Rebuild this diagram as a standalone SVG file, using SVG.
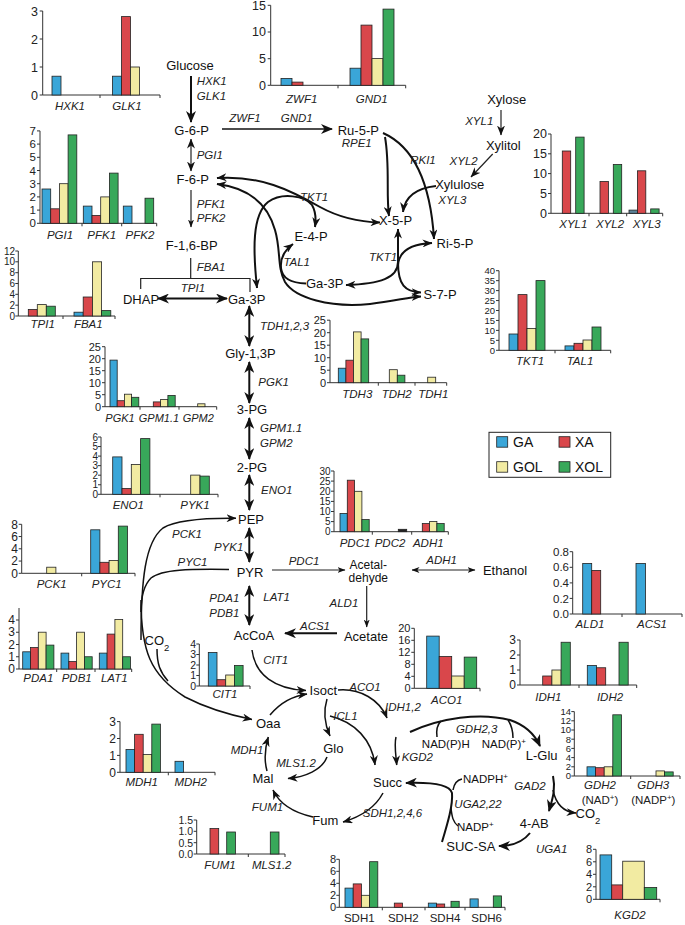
<svg xmlns="http://www.w3.org/2000/svg" width="685" height="925" viewBox="0 0 685 925">
<style>
.ax{fill:none;stroke:#333;stroke-width:1}
.b{stroke:#222;stroke-width:0.8}
.ga{fill:#3aa6d8}.xa{fill:#d9474b}.gol{fill:#f2eba2}.xol{fill:#38a85a}.blk{fill:#222}
.tk{font-family:"Liberation Sans",Arial,sans-serif;font-size:11.5px;text-anchor:end;fill:#222}
.gn{font-family:"Liberation Sans",Arial,sans-serif;font-size:11.5px;font-style:italic;text-anchor:middle;fill:#222}
.gu{font-family:"Liberation Sans",Arial,sans-serif;font-size:11.5px;text-anchor:middle;fill:#222}
.nd{font-family:"Liberation Sans",Arial,sans-serif;font-size:13px;text-anchor:middle;fill:#111}
.en{font-family:"Liberation Sans",Arial,sans-serif;font-size:11.5px;font-style:italic;fill:#222}
.cf{font-family:"Liberation Sans",Arial,sans-serif;font-size:11.5px;fill:#111}
.lg{font-family:"Liberation Sans",Arial,sans-serif;font-size:14px;fill:#111}
.s95{font-size:9.5px}.s10{font-size:10px}.s105{font-size:10.5px}.s11{font-size:11px}.s12{font-size:12px}.s125{font-size:12.5px}
.c{fill:none;stroke:#111;stroke-width:2}
.cm{fill:none;stroke:#111;stroke-width:1.5}
.ct{fill:none;stroke:#222;stroke-width:1.2}
</style>
<defs>
<marker id="ah" viewBox="0 0 12 10" refX="11" refY="5" markerWidth="12" markerHeight="10" markerUnits="userSpaceOnUse" orient="auto-start-reverse"><path d="M0,0 L12,5 L0,10 L3.5,5 Z" fill="#111"/></marker>
<marker id="am" viewBox="0 0 10 8" refX="9.5" refY="4" markerWidth="10" markerHeight="8" markerUnits="userSpaceOnUse" orient="auto-start-reverse"><path d="M0,0 L10,4 L0,8 L3,4 Z" fill="#111"/></marker>
<marker id="as" viewBox="0 0 8 6" refX="7.5" refY="3" markerWidth="8" markerHeight="6" markerUnits="userSpaceOnUse" orient="auto-start-reverse"><path d="M0,0 L8,3 L0,6 L2.2,3 Z" fill="#111"/></marker>
</defs>
<rect width="685" height="925" fill="#fff"/>

<!-- ========== CHARTS ========== -->
<g id="chart-hxk">
<path class="ax" d="M42.7 11V95H160M39.7 11H42.7M39.7 39H42.7M39.7 67H42.7M39.7 95H42.7M100 95V98M160 95V98"/>
<text class="tk s125" x="38" y="15.5">3</text><text class="tk s125" x="38" y="43.5">2</text><text class="tk s125" x="38" y="71.5">1</text><text class="tk s125" x="38" y="99.5">0</text>
<rect class="b ga" x="52" y="76.2" width="9" height="18.8"/>
<rect class="b ga" x="112.5" y="76.2" width="9" height="18.8"/>
<rect class="b xa" x="121.5" y="16.6" width="9" height="78.4"/>
<rect class="b gol" x="130.5" y="67" width="9" height="28"/>
<text class="gn" x="70" y="110">HXK1</text><text class="gn" x="127" y="110">GLK1</text>
</g>

<g id="chart-zwf">
<path class="ax" d="M270.7 5.3V85.3H405.7M267.7 5.3H270.7M267.7 32H270.7M267.7 58.7H270.7M267.7 85.3H270.7M338 85.3V88.3M405.7 85.3V88.3"/>
<text class="tk s125" x="266" y="9.5">15</text><text class="tk s125" x="266" y="36.2">10</text><text class="tk s125" x="266" y="62.9">5</text><text class="tk s125" x="266" y="89.5">0</text>
<rect class="b ga" x="281" y="78.4" width="11" height="6.9"/>
<rect class="b xa" x="292" y="82.1" width="11" height="3.2"/>
<rect class="b ga" x="350" y="68.2" width="11" height="17.1"/>
<rect class="b xa" x="361" y="25.1" width="11" height="60.2"/>
<rect class="b gol" x="372" y="58.6" width="11" height="26.7"/>
<rect class="b xol" x="383" y="9.1" width="11" height="76.2"/>
<text class="gn" x="301.7" y="103">ZWF1</text><text class="gn" x="371.7" y="103">GND1</text>
</g>

<g id="chart-pgi">
<path class="ax" d="M40 130.9V223.3H156.7M37 130.9H40M37 144.1H40M37 157.3H40M37 170.5H40M37 183.7H40M37 196.9H40M37 210.1H40M37 223.3H40M82 223.3V226.3M121.7 223.3V226.3M156.7 223.3V226.3"/>
<text class="tk" x="36" y="135">7</text><text class="tk" x="36" y="148.2">6</text><text class="tk" x="36" y="161.4">5</text><text class="tk" x="36" y="174.6">4</text><text class="tk" x="36" y="187.8">3</text><text class="tk" x="36" y="201">2</text><text class="tk" x="36" y="214.2">1</text><text class="tk" x="36" y="227.4">0</text>
<rect class="b ga" x="42" y="189" width="8.7" height="34.3"/>
<rect class="b xa" x="50.7" y="208.8" width="8.7" height="14.5"/>
<rect class="b gol" x="59.4" y="183.7" width="8.7" height="39.6"/>
<rect class="b xol" x="68.1" y="134.9" width="8.7" height="88.4"/>
<rect class="b ga" x="83.3" y="206.1" width="8.7" height="17.2"/>
<rect class="b xa" x="92" y="215.4" width="8.7" height="7.9"/>
<rect class="b gol" x="100.7" y="196.9" width="8.7" height="26.4"/>
<rect class="b xol" x="109.4" y="173.1" width="8.7" height="50.2"/>
<rect class="b ga" x="123.3" y="206.1" width="8.7" height="17.2"/>
<rect class="b xol" x="145" y="198.2" width="8.7" height="25.1"/>
<text class="gn" x="60" y="239">PGI1</text><text class="gn" x="101.7" y="239">PFK1</text><text class="gn" x="140" y="239">PFK2</text>
</g>

<g id="chart-tpi">
<path class="ax" d="M18.3 251V316H115M15.3 251H18.3M15.3 261.8H18.3M15.3 272.7H18.3M15.3 283.5H18.3M15.3 294.3H18.3M15.3 305.2H18.3M15.3 316H18.3M63 316V319M115 316V319"/>
<text class="tk s10" x="15" y="254.6">12</text><text class="tk s10" x="15" y="265.4">10</text><text class="tk s10" x="15" y="276.3">8</text><text class="tk s10" x="15" y="287.1">6</text><text class="tk s10" x="15" y="297.9">4</text><text class="tk s10" x="15" y="308.8">2</text><text class="tk s10" x="15" y="319.6">0</text>
<rect class="b xa" x="28.3" y="309.5" width="9" height="6.5"/>
<rect class="b gol" x="37.3" y="304.6" width="9" height="11.4"/>
<rect class="b xol" x="46.3" y="306.2" width="9" height="9.8"/>
<rect class="b ga" x="74" y="312.2" width="9.2" height="3.8"/>
<rect class="b xa" x="83.2" y="297" width="9.2" height="19"/>
<rect class="b gol" x="92.4" y="261.8" width="9.2" height="54.2"/>
<rect class="b xol" x="101.6" y="310.6" width="9.2" height="5.4"/>
<text class="gn" x="42.7" y="328">TPI1</text><text class="gn" x="88.3" y="328">FBA1</text>
</g>

<g id="chart-xyl">
<path class="ax" d="M551 134V213.3H662.7M548 134H551M548 153.8H551M548 173.6H551M548 193.5H551M548 213.3H551M589 213.3V216.3M626.7 213.3V216.3M662.7 213.3V216.3"/>
<text class="tk s125" x="547" y="138.3">20</text><text class="tk s125" x="547" y="158.1">15</text><text class="tk s125" x="547" y="177.9">10</text><text class="tk s125" x="547" y="197.8">5</text><text class="tk s125" x="547" y="217.6">0</text>
<rect class="b xa" x="562.3" y="151" width="8.4" height="62.3"/>
<rect class="b xol" x="575.7" y="137.1" width="8.4" height="76.2"/>
<rect class="b xa" x="600" y="181.5" width="8.4" height="31.8"/>
<rect class="b xol" x="613.3" y="164.5" width="8.4" height="48.8"/>
<rect class="b" x="629" y="210.1" width="8.4" height="3.2" fill="#5b8298"/>
<rect class="b xa" x="637.4" y="170.8" width="8.4" height="42.5"/>
<rect class="b xol" x="650.7" y="208.9" width="8.4" height="4.4"/>
<text class="gn" x="573.3" y="228">XYL1</text><text class="gn" x="610" y="228">XYL2</text><text class="gn" x="646.7" y="228">XYL3</text>
</g>

<g id="chart-tkt">
<path class="ax" d="M499 270.7V350.3H610.7M496 270.7H499M496 280.65H499M496 290.6H499M496 300.55H499M496 310.5H499M496 320.45H499M496 330.4H499M496 340.35H499M496 350.3H499M555 350.3V353.3M610.7 350.3V353.3"/>
<text class="tk s95" x="495" y="274">40</text><text class="tk s95" x="495" y="284">35</text><text class="tk s95" x="495" y="293.9">30</text><text class="tk s95" x="495" y="303.9">25</text><text class="tk s95" x="495" y="313.8">20</text><text class="tk s95" x="495" y="323.8">15</text><text class="tk s95" x="495" y="333.7">10</text><text class="tk s95" x="495" y="343.7">5</text><text class="tk s95" x="495" y="353.6">0</text>
<rect class="b ga" x="509" y="334" width="9" height="16.3"/>
<rect class="b xa" x="518" y="294.6" width="9" height="55.7"/>
<rect class="b gol" x="527" y="328.4" width="9" height="21.9"/>
<rect class="b xol" x="536" y="280.6" width="9" height="69.7"/>
<rect class="b ga" x="565" y="345.9" width="9" height="4.4"/>
<rect class="b xa" x="574" y="343.3" width="9" height="7"/>
<rect class="b gol" x="583" y="340" width="9" height="10.3"/>
<rect class="b xol" x="592" y="327" width="9" height="23.3"/>
<text class="gn" x="530" y="365">TKT1</text><text class="gn" x="580" y="365">TAL1</text>
</g>

<g id="chart-tdh">
<path class="ax" d="M330 320.2V382.7H446.7M327 320.2H330M327 332.7H330M327 345.2H330M327 357.7H330M327 370.2H330M327 382.7H330M378.3 382.7V385.7M415 382.7V385.7M446.7 382.7V385.7"/>
<text class="tk s11" x="326" y="324.2">25</text><text class="tk s11" x="326" y="336.7">20</text><text class="tk s11" x="326" y="349.2">15</text><text class="tk s11" x="326" y="361.7">10</text><text class="tk s11" x="326" y="374.2">5</text><text class="tk s11" x="326" y="386.7">0</text>
<rect class="b ga" x="338.3" y="368.2" width="7.6" height="14.5"/>
<rect class="b xa" x="345.9" y="360.2" width="7.6" height="22.5"/>
<rect class="b gol" x="353.5" y="331.9" width="7.6" height="50.8"/>
<rect class="b xol" x="361.1" y="338.9" width="7.6" height="43.8"/>
<rect class="b gol" x="389.3" y="369.7" width="8" height="13"/>
<rect class="b xol" x="397.3" y="375.2" width="7.6" height="7.5"/>
<rect class="b gol" x="427.7" y="377.2" width="8" height="5.5"/>
<text class="gn" x="357.3" y="398">TDH3</text><text class="gn" x="396.7" y="398">TDH2</text><text class="gn" x="433.3" y="398">TDH1</text>
</g>

<g id="chart-pgk">
<path class="ax" d="M105 346.7V406.7H216.7M102 346.7H105M102 358.7H105M102 370.7H105M102 382.7H105M102 394.7H105M102 406.7H105M140 406.7V409.7M179 406.7V409.7M216.7 406.7V409.7"/>
<text class="tk s11" x="101" y="350.7">25</text><text class="tk s11" x="101" y="362.7">20</text><text class="tk s11" x="101" y="374.7">15</text><text class="tk s11" x="101" y="386.7">10</text><text class="tk s11" x="101" y="398.7">5</text><text class="tk s11" x="101" y="410.7">0</text>
<rect class="b ga" x="110" y="360.1" width="7.2" height="46.6"/>
<rect class="b xa" x="117.2" y="400.7" width="7.2" height="6"/>
<rect class="b gol" x="124.4" y="394.2" width="7.2" height="12.5"/>
<rect class="b xol" x="131.6" y="397.3" width="7.2" height="9.4"/>
<rect class="b xa" x="153.3" y="401.9" width="7.3" height="4.8"/>
<rect class="b gol" x="160.6" y="399.5" width="7.3" height="7.2"/>
<rect class="b xol" x="167.9" y="395.4" width="7.3" height="11.3"/>
<rect class="b gol" x="197.7" y="403.8" width="7.3" height="2.9"/>
<text class="gn s11" x="120" y="422">PGK1</text><text class="gn s11" x="159" y="422">GPM1.1</text><text class="gn s11" x="198.3" y="422">GPM2</text>
</g>

<g id="chart-eno">
<path class="ax" d="M101 437V494.3H218M98 437H101M98 446.55H101M98 456.1H101M98 465.65H101M98 475.2H101M98 484.75H101M98 494.3H101M160 494.3V497.3M218 494.3V497.3"/>
<text class="tk s10" x="98" y="440.6">6</text><text class="tk s10" x="98" y="450.2">5</text><text class="tk s10" x="98" y="459.7">4</text><text class="tk s10" x="98" y="469.3">3</text><text class="tk s10" x="98" y="478.8">2</text><text class="tk s10" x="98" y="488.4">1</text><text class="tk s10" x="98" y="497.9">0</text>
<rect class="b ga" x="112.7" y="456.9" width="9.3" height="37.4"/>
<rect class="b xa" x="122" y="488.5" width="9.3" height="5.8"/>
<rect class="b gol" x="131.3" y="464.5" width="9.3" height="29.8"/>
<rect class="b xol" x="140.6" y="438.6" width="9.3" height="55.7"/>
<rect class="b gol" x="190.7" y="475.1" width="9.3" height="19.2"/>
<rect class="b xol" x="200" y="476.1" width="9.3" height="18.2"/>
<text class="gn" x="128.3" y="509">ENO1</text><text class="gn" x="195" y="509">PYK1</text>
</g>

<g id="chart-pck">
<path class="ax" d="M21.7 524.3V573.3H135M18.7 524.3H21.7M18.7 536.55H21.7M18.7 548.8H21.7M18.7 561.05H21.7M18.7 573.3H21.7M81.7 573.3V576.3M135 573.3V576.3"/>
<text class="tk s12" x="18" y="528.5">8</text><text class="tk s12" x="18" y="540.7">6</text><text class="tk s12" x="18" y="553">4</text><text class="tk s12" x="18" y="565.2">2</text><text class="tk s12" x="18" y="577.5">0</text>
<rect class="b gol" x="46.7" y="567.2" width="9.2" height="6.1"/>
<rect class="b ga" x="90.7" y="529.8" width="9.2" height="43.5"/>
<rect class="b xa" x="99.9" y="562.3" width="9.2" height="11"/>
<rect class="b gol" x="109.1" y="560.4" width="9.2" height="12.9"/>
<rect class="b xol" x="118.3" y="526.1" width="9.2" height="47.2"/>
<text class="gn" x="51.7" y="588">PCK1</text><text class="gn" x="106.7" y="588">PYC1</text>
</g>

<g id="chart-pda">
<path class="ax" d="M19 608V669H131.7M16 620H19M16 632.25H19M16 644.5H19M16 656.75H19M16 669H19M56.7 669V672M95 669V672M131.7 669V672"/>
<text class="tk s12" x="15" y="624.2">4</text><text class="tk s12" x="15" y="636.4">3</text><text class="tk s12" x="15" y="648.7">2</text><text class="tk s12" x="15" y="660.9">1</text><text class="tk s12" x="15" y="673.2">0</text>
<rect class="b ga" x="22.7" y="651.8" width="7.8" height="17.2"/>
<rect class="b xa" x="30.5" y="647.6" width="7.8" height="21.4"/>
<rect class="b gol" x="38.3" y="632.2" width="7.8" height="36.8"/>
<rect class="b xol" x="46.1" y="645.1" width="7.8" height="23.9"/>
<rect class="b ga" x="61" y="653.1" width="7.8" height="15.9"/>
<rect class="b xa" x="68.8" y="661.6" width="7.8" height="7.4"/>
<rect class="b gol" x="76.6" y="632.2" width="7.8" height="36.8"/>
<rect class="b xol" x="84.4" y="656.75" width="7.8" height="12.25"/>
<rect class="b ga" x="99.3" y="653.1" width="7.8" height="15.9"/>
<rect class="b xa" x="107.1" y="634.1" width="7.8" height="34.9"/>
<rect class="b gol" x="114.9" y="619.4" width="7.8" height="49.6"/>
<rect class="b xol" x="122.7" y="656.75" width="7.8" height="12.25"/>
<text class="gn" x="38.3" y="682">PDA1</text><text class="gn" x="76.7" y="682">PDB1</text><text class="gn" x="114.3" y="682">LAT1</text>
</g>

<g id="chart-cit">
<path class="ax" d="M199.3 644V686H250M196.3 644H199.3M196.3 654.5H199.3M196.3 665H199.3M196.3 675.5H199.3M196.3 686H199.3M250 686V689"/>
<text class="tk s105" x="196" y="647.8">4</text><text class="tk s105" x="196" y="658.3">3</text><text class="tk s105" x="196" y="668.8">2</text><text class="tk s105" x="196" y="679.3">1</text><text class="tk s105" x="196" y="689.8">0</text>
<rect class="b ga" x="208.3" y="652.4" width="8.7" height="33.6"/>
<rect class="b xa" x="217" y="679.7" width="8.7" height="6.3"/>
<rect class="b gol" x="225.7" y="675" width="8.7" height="11"/>
<rect class="b xol" x="234.4" y="665.5" width="8.7" height="20.5"/>
<text class="gn" x="225" y="698">CIT1</text>
</g>

<g id="chart-pdc">
<path class="ax" d="M334 471V531.7H448.3M331 471H334M331 481.1H334M331 491.2H334M331 501.4H334M331 511.5H334M331 521.6H334M331 531.7H334M372.3 531.7V534.7M411.7 531.7V534.7M448.3 531.7V534.7"/>
<text class="tk s10" x="330.5" y="474.6">30</text><text class="tk s10" x="330.5" y="484.7">25</text><text class="tk s10" x="330.5" y="494.8">20</text><text class="tk s10" x="330.5" y="505">15</text><text class="tk s10" x="330.5" y="515.1">10</text><text class="tk s10" x="330.5" y="525.2">5</text><text class="tk s10" x="330.5" y="535.3">0</text>
<rect class="b ga" x="340" y="513.5" width="7.3" height="18.2"/>
<rect class="b xa" x="347.3" y="480.2" width="7.3" height="51.5"/>
<rect class="b gol" x="354.6" y="491.3" width="7.3" height="40.4"/>
<rect class="b xol" x="361.9" y="519.6" width="7.3" height="12.1"/>
<rect class="b blk" x="398.3" y="529.3" width="8.4" height="2.4"/>
<rect class="b xa" x="422.3" y="523.6" width="7.3" height="8.1"/>
<rect class="b gol" x="429.6" y="521.6" width="7.3" height="10.1"/>
<rect class="b xol" x="436.9" y="523.6" width="7.3" height="8.1"/>
<text class="gn" x="355" y="547">PDC1</text><text class="gn" x="390" y="547">PDC2</text><text class="gn" x="428.3" y="547">ADH1</text>
</g>

<g id="chart-ald">
<path class="ax" d="M572.7 551.7V614H682M569.7 551.7H572.7M569.7 567.3H572.7M569.7 582.9H572.7M569.7 598.4H572.7M569.7 614H572.7M622 614V617M682 614V617"/>
<text class="tk" x="569" y="555.8">0.8</text><text class="tk" x="569" y="571.4">0.6</text><text class="tk" x="569" y="587">0.4</text><text class="tk" x="569" y="602.5">0.2</text><text class="tk" x="569" y="618.1">0.0</text>
<rect class="b ga" x="582.7" y="563.4" width="9" height="50.6"/>
<rect class="b xa" x="591.7" y="570.4" width="9" height="43.6"/>
<rect class="b ga" x="636" y="563.4" width="9.5" height="50.6"/>
<text class="gn" x="590" y="628">ALD1</text><text class="gn" x="652" y="628">ACS1</text>
</g>

<g id="chart-aco">
<path class="ax" d="M414.3 628.3V688.3H480M411.3 628.3H414.3M411.3 640.3H414.3M411.3 652.3H414.3M411.3 664.3H414.3M411.3 676.3H414.3M411.3 688.3H414.3M480 688.3V691.3"/>
<text class="tk s11" x="410.5" y="632.2">20</text><text class="tk s11" x="410.5" y="644.2">16</text><text class="tk s11" x="410.5" y="656.2">12</text><text class="tk s11" x="410.5" y="668.2">8</text><text class="tk s11" x="410.5" y="680.2">4</text><text class="tk s11" x="410.5" y="692.2">0</text>
<rect class="b ga" x="426.7" y="636.1" width="12.5" height="52.2"/>
<rect class="b xa" x="439.2" y="656.5" width="12.5" height="31.8"/>
<rect class="b gol" x="451.7" y="676" width="12.5" height="12.3"/>
<rect class="b xol" x="464.2" y="657.1" width="12.5" height="31.2"/>
<text class="gn" x="446.7" y="704">ACO1</text>
</g>

<g id="chart-idh">
<path class="ax" d="M520 640V685H636.7M517 640H520M517 655H520M517 670H520M517 685H520M579 685V688M636.7 685V688"/>
<text class="tk s12" x="516" y="644.2">3</text><text class="tk s12" x="516" y="659.2">2</text><text class="tk s12" x="516" y="674.2">1</text><text class="tk s12" x="516" y="689.2">0</text>
<rect class="b xa" x="542.7" y="676" width="9.2" height="9"/>
<rect class="b gol" x="551.9" y="670" width="9.2" height="15"/>
<rect class="b xol" x="561.1" y="642.25" width="9.2" height="42.75"/>
<rect class="b ga" x="587.3" y="665.5" width="9.2" height="19.5"/>
<rect class="b xa" x="596.5" y="667.75" width="9.2" height="17.25"/>
<rect class="b xol" x="619" y="642.25" width="9.2" height="42.75"/>
<text class="gn" x="548.3" y="701">IDH1</text><text class="gn" x="610" y="701">IDH2</text>
</g>

<g id="chart-gdh">
<path class="ax" d="M574.3 711.6V776H680M571.3 711.6H574.3M571.3 720.8H574.3M571.3 730H574.3M571.3 739.2H574.3M571.3 748.4H574.3M571.3 757.6H574.3M571.3 766.8H574.3M571.3 776H574.3M630.7 776V779M680 776V779"/>
<text class="tk s95" x="571" y="715">14</text><text class="tk s95" x="571" y="724.2">12</text><text class="tk s95" x="571" y="733.4">10</text><text class="tk s95" x="571" y="742.6">8</text><text class="tk s95" x="571" y="751.8">6</text><text class="tk s95" x="571" y="761">4</text><text class="tk s95" x="571" y="770.2">2</text><text class="tk s95" x="571" y="779.4">0</text>
<rect class="b ga" x="587" y="766.8" width="8.6" height="9.2"/>
<rect class="b xa" x="595.6" y="767.7" width="8.6" height="8.3"/>
<rect class="b gol" x="604.2" y="766.8" width="8.6" height="9.2"/>
<rect class="b xol" x="612.8" y="714.8" width="8.6" height="61.2"/>
<rect class="b gol" x="656" y="770.9" width="8.6" height="5.1"/>
<rect class="b xol" x="664.6" y="771.9" width="8.6" height="4.1"/>
<text class="gn" x="600" y="789">GDH2</text><text class="gn" x="653.3" y="789">GDH3</text>
<text class="gu" x="600" y="804">(NAD<tspan baseline-shift="super" font-size="8">+</tspan>)</text>
<text class="gu" x="653.3" y="804">(NADP<tspan baseline-shift="super" font-size="8">+</tspan>)</text>
</g>

<g id="chart-mdh">
<path class="ax" d="M120 721.6V772.3H215M117 721.6H120M117 738.5H120M117 755.4H120M117 772.3H120M168.3 772.3V775.3M215 772.3V775.3"/>
<text class="tk s12" x="116" y="725.8">3</text><text class="tk s12" x="116" y="742.7">2</text><text class="tk s12" x="116" y="759.6">1</text><text class="tk s12" x="116" y="776.5">0</text>
<rect class="b ga" x="126" y="749.5" width="8.6" height="22.8"/>
<rect class="b xa" x="134.6" y="734.3" width="8.6" height="38"/>
<rect class="b gol" x="143.2" y="754.6" width="8.6" height="17.7"/>
<rect class="b xol" x="151.8" y="724.1" width="8.6" height="48.2"/>
<rect class="b ga" x="175" y="761.3" width="8.6" height="11"/>
<text class="gn" x="141.7" y="786">MDH1</text><text class="gn" x="190.7" y="786">MDH2</text>
</g>

<g id="chart-fum">
<path class="ax" d="M196.7 820V854H285M193.7 820H196.7M193.7 831.3H196.7M193.7 842.7H196.7M193.7 854H196.7M248.3 854V857M285 854V857"/>
<text class="tk s105" x="193" y="823.8">1.5</text><text class="tk s105" x="193" y="835.1">1.0</text><text class="tk s105" x="193" y="846.5">0.5</text><text class="tk s105" x="193" y="857.8">0.0</text>
<rect class="b xa" x="210" y="828.6" width="8.7" height="25.4"/>
<rect class="b xol" x="226.7" y="832" width="8.7" height="22"/>
<rect class="b xol" x="270.3" y="832" width="8.7" height="22"/>
<text class="gn" x="220" y="869">FUM1</text><text class="gn" x="271.7" y="869">MLS1.2</text>
</g>

<g id="chart-sdh">
<path class="ax" d="M339.3 859.3V907.3H505M336.3 859.3H339.3M336.3 871.3H339.3M336.3 883.3H339.3M336.3 895.3H339.3M336.3 907.3H339.3M382.3 907.3V910.3M425 907.3V910.3M465 907.3V910.3M505 907.3V910.3"/>
<text class="tk s11" x="336" y="863.3">8</text><text class="tk s11" x="336" y="875.3">6</text><text class="tk s11" x="336" y="887.3">4</text><text class="tk s11" x="336" y="899.3">2</text><text class="tk s11" x="336" y="911.3">0</text>
<rect class="b ga" x="345" y="888.1" width="8.2" height="19.2"/>
<rect class="b xa" x="353.2" y="883.9" width="8.2" height="23.4"/>
<rect class="b gol" x="361.4" y="895.3" width="8.2" height="12"/>
<rect class="b xol" x="369.6" y="861.7" width="8.2" height="45.6"/>
<rect class="b xa" x="394.3" y="903.1" width="8.2" height="4.2"/>
<rect class="b ga" x="428.3" y="903.1" width="8.2" height="4.2"/>
<rect class="b xa" x="436.5" y="904" width="8.2" height="3.3"/>
<rect class="b xol" x="451" y="901.3" width="8.2" height="6"/>
<rect class="b ga" x="470" y="898.9" width="8.2" height="8.4"/>
<rect class="b xol" x="493.3" y="895.9" width="8.2" height="11.4"/>
<text class="gu" x="359.3" y="922">SDH1</text><text class="gu" x="403.3" y="922">SDH2</text><text class="gu" x="445" y="922">SDH4</text><text class="gu" x="486.7" y="922">SDH6</text>
</g>

<g id="chart-kgd">
<path class="ax" d="M596 849.3V899.3H660M593 849.3H596M593 861.8H596M593 874.3H596M593 886.8H596M593 899.3H596M660 899.3V902.3"/>
<text class="tk s11" x="592" y="853.3">8</text><text class="tk s11" x="592" y="865.8">6</text><text class="tk s11" x="592" y="878.3">4</text><text class="tk s11" x="592" y="890.8">2</text><text class="tk s11" x="592" y="903.3">0</text>
<rect class="b ga" x="600" y="854.9" width="11.7" height="44.4"/>
<rect class="b xa" x="611.7" y="884.9" width="11" height="14.4"/>
<rect class="b gol" x="622.7" y="861.2" width="21.6" height="38.1"/>
<rect class="b xol" x="644.3" y="887.4" width="12.4" height="11.9"/>
<text class="gn" x="630" y="919">KGD2</text>
</g>

<g id="legend">
<rect x="489" y="432.3" width="121.7" height="45" fill="#fff" stroke="#222" stroke-width="1"/>
<rect class="b ga" x="496.7" y="436.7" width="11" height="10.5"/><text class="lg" x="513" y="446.5">GA</text>
<rect class="b xa" x="559" y="436.7" width="11" height="10.5"/><text class="lg" x="575" y="446.5">XA</text>
<rect class="b gol" x="496.7" y="461.7" width="11" height="10.5"/><text class="lg" x="513" y="471.5">GOL</text>
<rect class="b xol" x="559" y="461.7" width="11" height="10.5"/><text class="lg" x="575" y="472">XOL</text>
</g>

<!-- ========== CONNECTORS ========== -->
<g id="connectors">
<path class="c" d="M191 76V122" marker-end="url(#ah)"/>
<path class="cm" d="M222 129H332" marker-end="url(#ah)"/>
<path class="ct" d="M191 139V171" marker-start="url(#am)" marker-end="url(#am)"/>
<path class="ct" d="M191 190V227" marker-end="url(#as)"/>
<path class="ct" d="M190.7 258V278.5M140.7 289V278.5H250V292"/>
<path class="c" d="M158 298.5H227" stroke-width="1.8" marker-start="url(#ah)" marker-end="url(#ah)"/>
<path class="c" d="M249.3 306V346" marker-start="url(#ah)" marker-end="url(#ah)"/>
<path class="c" d="M249.3 362V403" marker-start="url(#ah)" marker-end="url(#ah)"/>
<path class="c" d="M249.3 418V459" marker-start="url(#ah)" marker-end="url(#ah)"/>
<path class="c" d="M249.3 475V510" marker-start="url(#ah)" marker-end="url(#ah)"/>
<path class="c" d="M249.3 528V562" marker-start="url(#ah)" marker-end="url(#ah)"/>
<path class="c" d="M249.3 586V625" marker-start="url(#ah)" marker-end="url(#ah)"/>
<!-- PPP -->
<path class="c" d="M385 137C390 165 386 195 389 216" marker-end="url(#am)"/>
<path class="c" d="M383 133C410 145 430 175 434 239" marker-end="url(#am)"/>
<path class="c" d="M436 186C418 188 405 195 403 212" marker-end="url(#am)"/>
<path class="c" d="M217 178C260 175 290 190 320 207C340 218 360 222 380 222.5" marker-start="url(#am)" marker-end="url(#am)"/>
<path class="c" d="M257 288C253 250 252 215 268 202C282 192 305 196 312 205C316 212 316 220 315 227" marker-start="url(#am)" marker-end="url(#am)"/>
<path class="c" d="M217 184C250 188 268 205 275 230C281 250 277 268 285 282C295 298 330 308 370 304C395 301 410 297 421 296.5" marker-start="url(#am)" marker-end="url(#am)"/>
<path class="c" d="M306 283.5C290 283 282 278 281 268C280 258 285 250 293 244" marker-end="url(#am)"/>
<path class="c" d="M398 262V229" marker-end="url(#am)"/>
<path class="c" d="M398 265C399 252 410 244 432 243" marker-end="url(#am)"/>
<path class="c" d="M398 262C398 278 380 284 346 285" marker-end="url(#am)"/>
<path class="c" d="M398 262C398 285 405 292 421 292.5" marker-end="url(#am)"/>
<path class="ct" d="M501 110V135" stroke-width="1.6" marker-end="url(#am)"/>
<path class="ct" d="M492.7 154L471 177" stroke-width="1.6" marker-end="url(#am)"/>
<!-- PEP/PYR anaplerotic -->
<path class="cm" d="M141 640C141 580 145 542 163 528C178 519 210 518 236 518.3" marker-end="url(#am)"/>
<path class="cm" d="M141 600C141 650 150 675 185 697C210 710 235 716 252 719.5" marker-end="url(#am)"/>
<path class="cm" d="M229 569.5C190 569 162 569 151 578C144 585 141 597 141 612"/>
<path class="cm" d="M157 649C157 664 160 672 168 681"/>
<path class="ct" d="M272 570H345" marker-end="url(#as)"/>
<path class="ct" d="M412 570H475" marker-start="url(#as)" marker-end="url(#as)"/>
<path class="ct" d="M366.7 586V627" marker-end="url(#as)"/>
<path class="c" d="M337 633.3H285" stroke-width="2.2" marker-end="url(#ah)"/>
<!-- TCA -->
<path class="cm" d="M252 650C255 675 275 689 306 690.5" marker-end="url(#am)"/>
<path class="cm" d="M338 690C360 688 380 700 387 718" marker-end="url(#am)"/>
<path class="cm" d="M270 715C280 703 292 696 307 694" marker-end="url(#am)"/>
<path class="cm" d="M327 699C323 712 325 725 330 736" marker-end="url(#am)"/>
<path class="cm" d="M330 716C355 722 372 740 375 765" marker-end="url(#am)"/>
<path class="cm" d="M327 757C322 770 305 777 288 778.5" marker-end="url(#am)"/>
<path class="cm" d="M267 771C264 760 265 748 268.3 737" marker-end="url(#am)"/>
<path class="cm" d="M396 737C394 745 396 755 396.7 765" marker-end="url(#am)"/>
<path class="cm" d="M383 793C375 808 360 817 343 822" marker-end="url(#am)"/>
<path class="cm" d="M313 817C295 813 280 805 273 790" marker-end="url(#am)"/>
<!-- GABA shunt -->
<path class="c" d="M410 732C440 718 480 712 510 720C525 725 535 735 540 746" stroke-width="2.5" marker-end="url(#ah)"/>
<path class="cm" d="M437 737C436 730 437 725 441 721"/>
<path class="cm" d="M508 720C512 726 513 732 513 738"/>
<path class="c" d="M553 776C556 790 552 800 549 811" stroke-width="2.5" marker-end="url(#ah)"/>
<path class="cm" d="M553 790C556 805 565 812 576 813" marker-end="url(#am)"/>
<path class="c" d="M530 833C522 843 512 846 499 846" stroke-width="2.5" marker-end="url(#ah)"/>
<path class="c" d="M442 842C448 822 453 805 452 793C450 786 435 782 406 783" stroke-width="2.5" marker-end="url(#ah)"/>
<path class="cm" d="M462 779C457 780 454 784 453 790"/>
<path class="cm" d="M451 808C452 817 453 822 458 826"/>
</g>

<!-- ========== ENZYME LABELS ========== -->
<g id="enzymes">
<text class="en" x="196.7" y="85">HXK1</text><text class="en" x="196.7" y="100">GLK1</text>
<text class="en" x="245" y="122" text-anchor="middle">ZWF1</text><text class="en" x="296.7" y="122" text-anchor="middle">GND1</text>
<text class="en" x="356.7" y="147" text-anchor="middle">RPE1</text>
<text class="en" x="196.7" y="159">PGI1</text>
<text class="en" x="196.7" y="208">PFK1</text><text class="en" x="196.7" y="222">PFK2</text>
<text class="en" x="196.7" y="271">FBA1</text>
<text class="en" x="193" y="292" text-anchor="middle">TPI1</text>
<text class="en" x="493.3" y="125" text-anchor="end">XYL1</text>
<text class="en" x="477.7" y="165" text-anchor="end">XYL2</text>
<text class="en" x="423" y="164" text-anchor="middle">RKI1</text>
<text class="en" x="438.3" y="204">XYL3</text>
<text class="en" x="314" y="201" text-anchor="middle">TKT1</text>
<text class="en" x="296.7" y="266" text-anchor="middle">TAL1</text>
<text class="en" x="383" y="261" text-anchor="middle">TKT1</text>
<text class="en" x="260" y="330">TDH1,2,3</text>
<text class="en" x="258.3" y="386">PGK1</text>
<text class="en" x="260" y="432">GPM1.1</text><text class="en" x="260" y="447">GPM2</text>
<text class="en" x="261" y="494">ENO1</text>
<text class="en" x="187" y="538" text-anchor="middle">PCK1</text>
<text class="en" x="243.3" y="551" text-anchor="end">PYK1</text>
<text class="en" x="192.5" y="566" text-anchor="middle">PYC1</text>
<text class="en" x="304" y="565" text-anchor="middle">PDC1</text>
<text class="en" x="441.7" y="564" text-anchor="middle">ADH1</text>
<text class="en" x="239.3" y="602" text-anchor="end">PDA1</text><text class="en" x="239.3" y="617" text-anchor="end">PDB1</text>
<text class="en" x="263.3" y="601">LAT1</text>
<text class="en" x="358.3" y="607" text-anchor="end">ALD1</text>
<text class="en" x="315" y="630" text-anchor="middle">ACS1</text>
<text class="en" x="263.3" y="664">CIT1</text>
<text class="en" x="365" y="691" text-anchor="middle">ACO1</text>
<text class="en" x="385" y="711">IDH1,2</text>
<text class="en" x="333.3" y="720">ICL1</text>
<text class="en" x="296" y="767" text-anchor="middle">MLS1.2</text>
<text class="en" x="263.3" y="754" text-anchor="end">MDH1</text>
<text class="en" x="401.7" y="761">KGD2</text>
<text class="en" x="267.5" y="811" text-anchor="middle">FUM1</text>
<text class="en" x="392.5" y="817" text-anchor="middle">SDH1,2,4,6</text>
<text class="en" x="476.7" y="733" text-anchor="middle">GDH2,3</text>
<text class="en" x="530" y="790" text-anchor="middle">GAD2</text>
<text class="en" x="478" y="808" text-anchor="middle">UGA2,22</text>
<text class="en" x="551.7" y="853" text-anchor="middle">UGA1</text>
</g>

<!-- ========== METABOLITE NODES ========== -->
<g id="n-glucose"><text class="nd" x="190" y="70">Glucose</text></g>
<g id="n-g6p"><text class="nd" x="191.7" y="135">G-6-P</text></g>
<g id="n-ru5p"><text class="nd" x="358.3" y="135">Ru-5-P</text></g>
<g id="n-f6p"><text class="nd" x="192.7" y="184">F-6-P</text></g>
<g id="n-f16bp"><text class="nd" x="191.7" y="250">F-1,6-BP</text></g>
<g id="n-dhap"><text class="nd" x="141" y="304">DHAP</text></g>
<g id="n-ga3p"><text class="nd" x="246.7" y="304">Ga-3P</text></g>
<g id="n-xylose"><text class="nd" x="506.7" y="104">Xylose</text></g>
<g id="n-xylitol"><text class="nd" x="503.3" y="150">Xylitol</text></g>
<g id="n-xylulose"><text class="nd" x="459.7" y="189">Xylulose</text></g>
<g id="n-x5p"><text class="nd" x="395.5" y="225">X-5-P</text></g>
<g id="n-e4p"><text class="nd" x="311" y="241">E-4-P</text></g>
<g id="n-ri5p"><text class="nd" x="455" y="248">Ri-5-P</text></g>
<g id="n-ga3p-ppp"><text class="nd" x="324.7" y="288">Ga-3P</text></g>
<g id="n-s7p"><text class="nd" x="440" y="299">S-7-P</text></g>
<g id="n-gly13p"><text class="nd" x="250.5" y="358">Gly-1,3P</text></g>
<g id="n-3pg"><text class="nd" x="252" y="414">3-PG</text></g>
<g id="n-2pg"><text class="nd" x="252" y="472">2-PG</text></g>
<g id="n-pep"><text class="nd" x="251" y="524">PEP</text></g>
<g id="n-pyr"><text class="nd" x="250" y="576.5">PYR</text></g>
<g id="n-acetaldehyde"><text class="nd s12" x="368.3" y="568.5">Acetal-</text><text class="nd s12" x="368.3" y="582">dehyde</text></g>
<g id="n-ethanol"><text class="nd" x="505" y="575">Ethanol</text></g>
<g id="n-acetate"><text class="nd" x="366" y="641">Acetate</text></g>
<g id="n-accoa"><text class="nd" x="254" y="640">AcCoA</text></g>
<g id="n-co2a"><text class="nd" x="157" y="645">CO<tspan baseline-shift="sub" font-size="9.5">2</tspan></text></g>
<g id="n-isoct"><text class="nd" x="323.3" y="695">Isoct</text></g>
<g id="n-oaa"><text class="nd" x="268.3" y="728">Oaa</text></g>
<g id="n-glo"><text class="nd" x="333.3" y="753">Glo</text></g>
<g id="n-mal"><text class="nd" x="263" y="783">Mal</text></g>
<g id="n-succ"><text class="nd" x="387.5" y="787">Succ</text></g>
<g id="n-fum"><text class="nd" x="325.3" y="825">Fum</text></g>
<g id="n-lglu"><text class="nd" x="541.7" y="760">L-Glu</text></g>
<g id="n-4ab"><text class="nd" x="534.2" y="828">4-AB</text></g>
<g id="n-sucsa"><text class="nd" x="470.8" y="851">SUC-SA</text></g>
<g id="n-co2b"><text class="nd" x="588" y="818">CO<tspan baseline-shift="sub" font-size="9.5">2</tspan></text></g>
<g id="n-cofactors">
<text class="cf" x="445.8" y="748" text-anchor="middle">NAD(P)H</text>
<text class="cf" x="481.7" y="748">NAD(P)<tspan baseline-shift="super" font-size="8">+</tspan></text>
<text class="cf" x="463" y="783">NADPH<tspan baseline-shift="super" font-size="8">+</tspan></text>
<text class="cf" x="457" y="831">NADP<tspan baseline-shift="super" font-size="8">+</tspan></text>
</g>
</svg>
